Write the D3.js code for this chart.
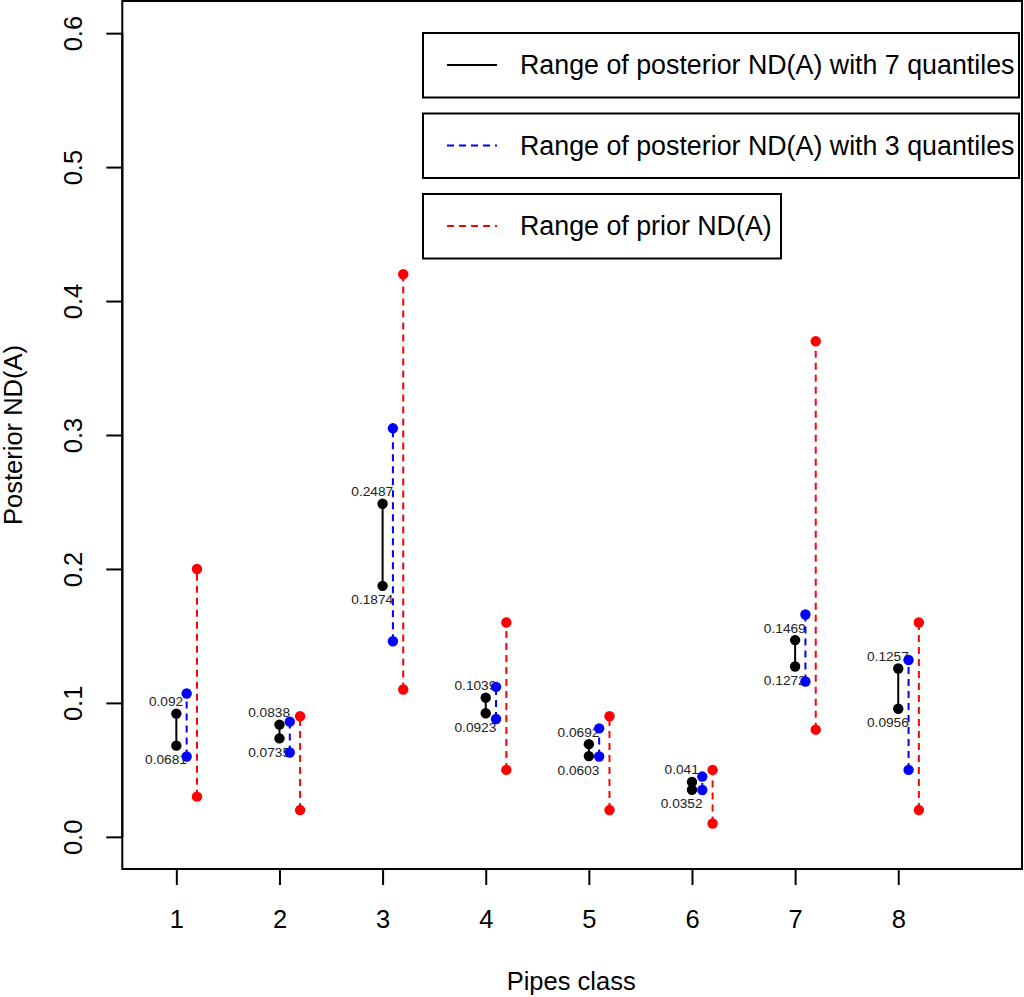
<!DOCTYPE html>
<html>
<head>
<meta charset="utf-8">
<script src="https://cdn.jsdelivr.net/npm/d3@7"></script>
<style>
  html, body { margin: 0; padding: 0; background: #fff; }
  svg { display: block; font-family: "Liberation Sans", Arial, sans-serif; }
</style>
</head>
<body>
<svg id="chart" width="1024" height="997"></svg>
<script>
// ---- data ----
const classes = [1, 2, 3, 4, 5, 6, 7, 8];
const post7Low  = [0.0681, 0.0735, 0.1874, 0.0923, 0.0603, 0.0352, 0.1272, 0.0956];
const post7High = [0.092, 0.0838, 0.2487, 0.1039, 0.0692, 0.041, 0.1469, 0.1257];
const post3Low  = [0.060, 0.063, 0.146, 0.088, 0.060, 0.035, 0.116, 0.050];
const post3High = [0.107, 0.086, 0.305, 0.112, 0.081, 0.045, 0.166, 0.132];
const priorLow  = [0.03, 0.02, 0.11, 0.05, 0.02, 0.01, 0.08, 0.02];
const priorHigh = [0.20, 0.09, 0.42, 0.16, 0.09, 0.05, 0.37, 0.16];
const yTicks = [0, 0.1, 0.2, 0.3, 0.4, 0.5, 0.6];
const xTicks = [1, 2, 3, 4, 5, 6, 7, 8];
const legendLabels = [
  "Range of posterior ND(A) with 7 quantiles",
  "Range of posterior ND(A) with 3 quantiles",
  "Range of prior ND(A)"
];

// ---- layout ----
const svg = d3.select("#chart");
const L = 122.3, R = 1022, T = 1, B = 869;
const x = d3.scaleLinear().domain([0.476, 9.2]).range([L, R]);
const y = d3.scaleLinear().domain([-0.024, 0.624]).range([B, T]);
const axisFont = 25.5;

// plot box
svg.append("rect").attr("x", L).attr("y", T).attr("width", R - L).attr("height", B - T)
  .attr("fill", "none").attr("stroke", "#000").attr("stroke-width", 2);

// y axis
const yAxis = svg.append("g").attr("transform", `translate(${L},0)`)
  .call(d3.axisLeft(y).tickValues(yTicks).tickSize(16).tickFormat(d3.format(".1f")));
yAxis.select(".domain").attr("d", `M0,${y(0)}V${y(0.6)}`).attr("stroke-width", 2);
yAxis.selectAll(".tick line").attr("stroke-width", 2);
yAxis.selectAll(".tick text")
  .attr("transform", "rotate(-90)")
  .attr("x", 0).attr("y", -40).attr("dy", 0)
  .attr("text-anchor", "middle")
  .attr("font-size", axisFont).attr("font-family", "Liberation Sans, Arial, sans-serif")
  .attr("fill", "#000");

// x axis
const xAxis = svg.append("g").attr("transform", `translate(0,${B})`)
  .call(d3.axisBottom(x).tickValues(xTicks).tickSize(16).tickFormat(d3.format("d")));
xAxis.select(".domain").attr("d", `M${x(1)},0H${x(8)}`).attr("stroke-width", 2);
xAxis.selectAll(".tick line").attr("stroke-width", 2);
xAxis.selectAll(".tick text")
  .attr("y", 59).attr("dy", 0)
  .attr("font-size", axisFont).attr("font-family", "Liberation Sans, Arial, sans-serif")
  .attr("fill", "#000");

// axis titles
svg.append("text").attr("x", (L + R) / 2 - 1).attr("y", 990)
  .attr("text-anchor", "middle").attr("font-size", axisFont).text("Pipes class");
svg.append("text").attr("transform", `translate(22,${(T + B) / 2}) rotate(-90)`)
  .attr("text-anchor", "middle").attr("font-size", axisFont).text("Posterior ND(A)");

// ---- marks ----
const idx = d3.range(classes.length);
const g = svg.append("g");
const rPt = 5.2;

// black: 7 quantiles
g.selectAll(".seg7").data(idx).join("line")
  .attr("x1", i => x(classes[i])).attr("x2", i => x(classes[i]))
  .attr("y1", i => y(post7Low[i])).attr("y2", i => y(post7High[i]))
  .attr("stroke", "#000").attr("stroke-width", 2);
g.selectAll(".pt7l").data(idx).join("circle")
  .attr("cx", i => x(classes[i])).attr("cy", i => y(post7Low[i])).attr("r", rPt).attr("fill", "#000");
g.selectAll(".pt7h").data(idx).join("circle").attr("class", "pt7h")
  .attr("cx", i => x(classes[i])).attr("cy", i => y(post7High[i])).attr("r", rPt).attr("fill", "#000");

// labels
g.selectAll(".lblH").data(idx).join("text").attr("class", "lblH")
  .attr("x", i => x(classes[i] - 0.1)).attr("y", i => y(post7High[i]) - 12.5)
  .attr("dy", "0.36em").attr("text-anchor", "middle").attr("font-size", 13.7).attr("fill", "#222")
  .text(i => String(post7High[i]));
g.selectAll(".lblL").data(idx).join("text").attr("class", "lblL")
  .attr("x", i => x(classes[i] - 0.1)).attr("y", i => y(post7Low[i]) + 13.5)
  .attr("dy", "0.36em").attr("text-anchor", "middle").attr("font-size", 13.7).attr("fill", "#222")
  .text(i => String(post7Low[i]));

// blue: 3 quantiles
g.selectAll(".seg3").data(idx).join("line").attr("class", "seg3")
  .attr("x1", i => x(classes[i] + 0.1)).attr("x2", i => x(classes[i] + 0.1))
  .attr("y1", i => y(post3Low[i])).attr("y2", i => y(post3High[i]))
  .attr("stroke", "#0000ff").attr("stroke-width", 2).attr("stroke-dasharray", "7,5");
g.selectAll(".pt3l").data(idx).join("circle").attr("class", "pt3l")
  .attr("cx", i => x(classes[i] + 0.1)).attr("cy", i => y(post3Low[i])).attr("r", rPt).attr("fill", "#0000ff");
g.selectAll(".pt3h").data(idx).join("circle").attr("class", "pt3h")
  .attr("cx", i => x(classes[i] + 0.1)).attr("cy", i => y(post3High[i])).attr("r", rPt).attr("fill", "#0000ff");

// red: prior
g.selectAll(".segp").data(idx).join("line").attr("class", "segp")
  .attr("x1", i => x(classes[i] + 0.2)).attr("x2", i => x(classes[i] + 0.2))
  .attr("y1", i => y(priorLow[i])).attr("y2", i => y(priorHigh[i]))
  .attr("stroke", "#ff0000").attr("stroke-width", 2).attr("stroke-dasharray", "7,5");
g.selectAll(".ptpl").data(idx).join("circle").attr("class", "ptpl")
  .attr("cx", i => x(classes[i] + 0.2)).attr("cy", i => y(priorLow[i])).attr("r", rPt).attr("fill", "#ff0000");
g.selectAll(".ptph").data(idx).join("circle").attr("class", "ptph")
  .attr("cx", i => x(classes[i] + 0.2)).attr("cy", i => y(priorHigh[i])).attr("r", rPt).attr("fill", "#ff0000");

// ---- legends (three separate boxes) ----
const legendColors = ["#000", "#0000ff", "#ff0000"];
const legendDash = [null, "7,5", "7,5"];
const legendTop = [33, 113.5, 194];
const legendRight = [1019, 1019, 781];
const legFont = 26.8;
legendLabels.forEach((lab, k) => {
  const lg = svg.append("g");
  lg.append("rect").attr("x", 423).attr("y", legendTop[k])
    .attr("width", legendRight[k] - 423).attr("height", 64.5)
    .attr("fill", "#fff").attr("stroke", "#000").attr("stroke-width", 2);
  const cy = legendTop[k] + 32;
  lg.append("line").attr("x1", 447).attr("x2", 497).attr("y1", cy).attr("y2", cy)
    .attr("stroke", legendColors[k]).attr("stroke-width", 2)
    .attr("stroke-dasharray", legendDash[k]);
  lg.append("text").attr("x", 520).attr("y", cy).attr("dy", "0.35em")
    .attr("font-size", legFont).attr("fill", "#000").text(lab);
});
</script>
</body>
</html>
